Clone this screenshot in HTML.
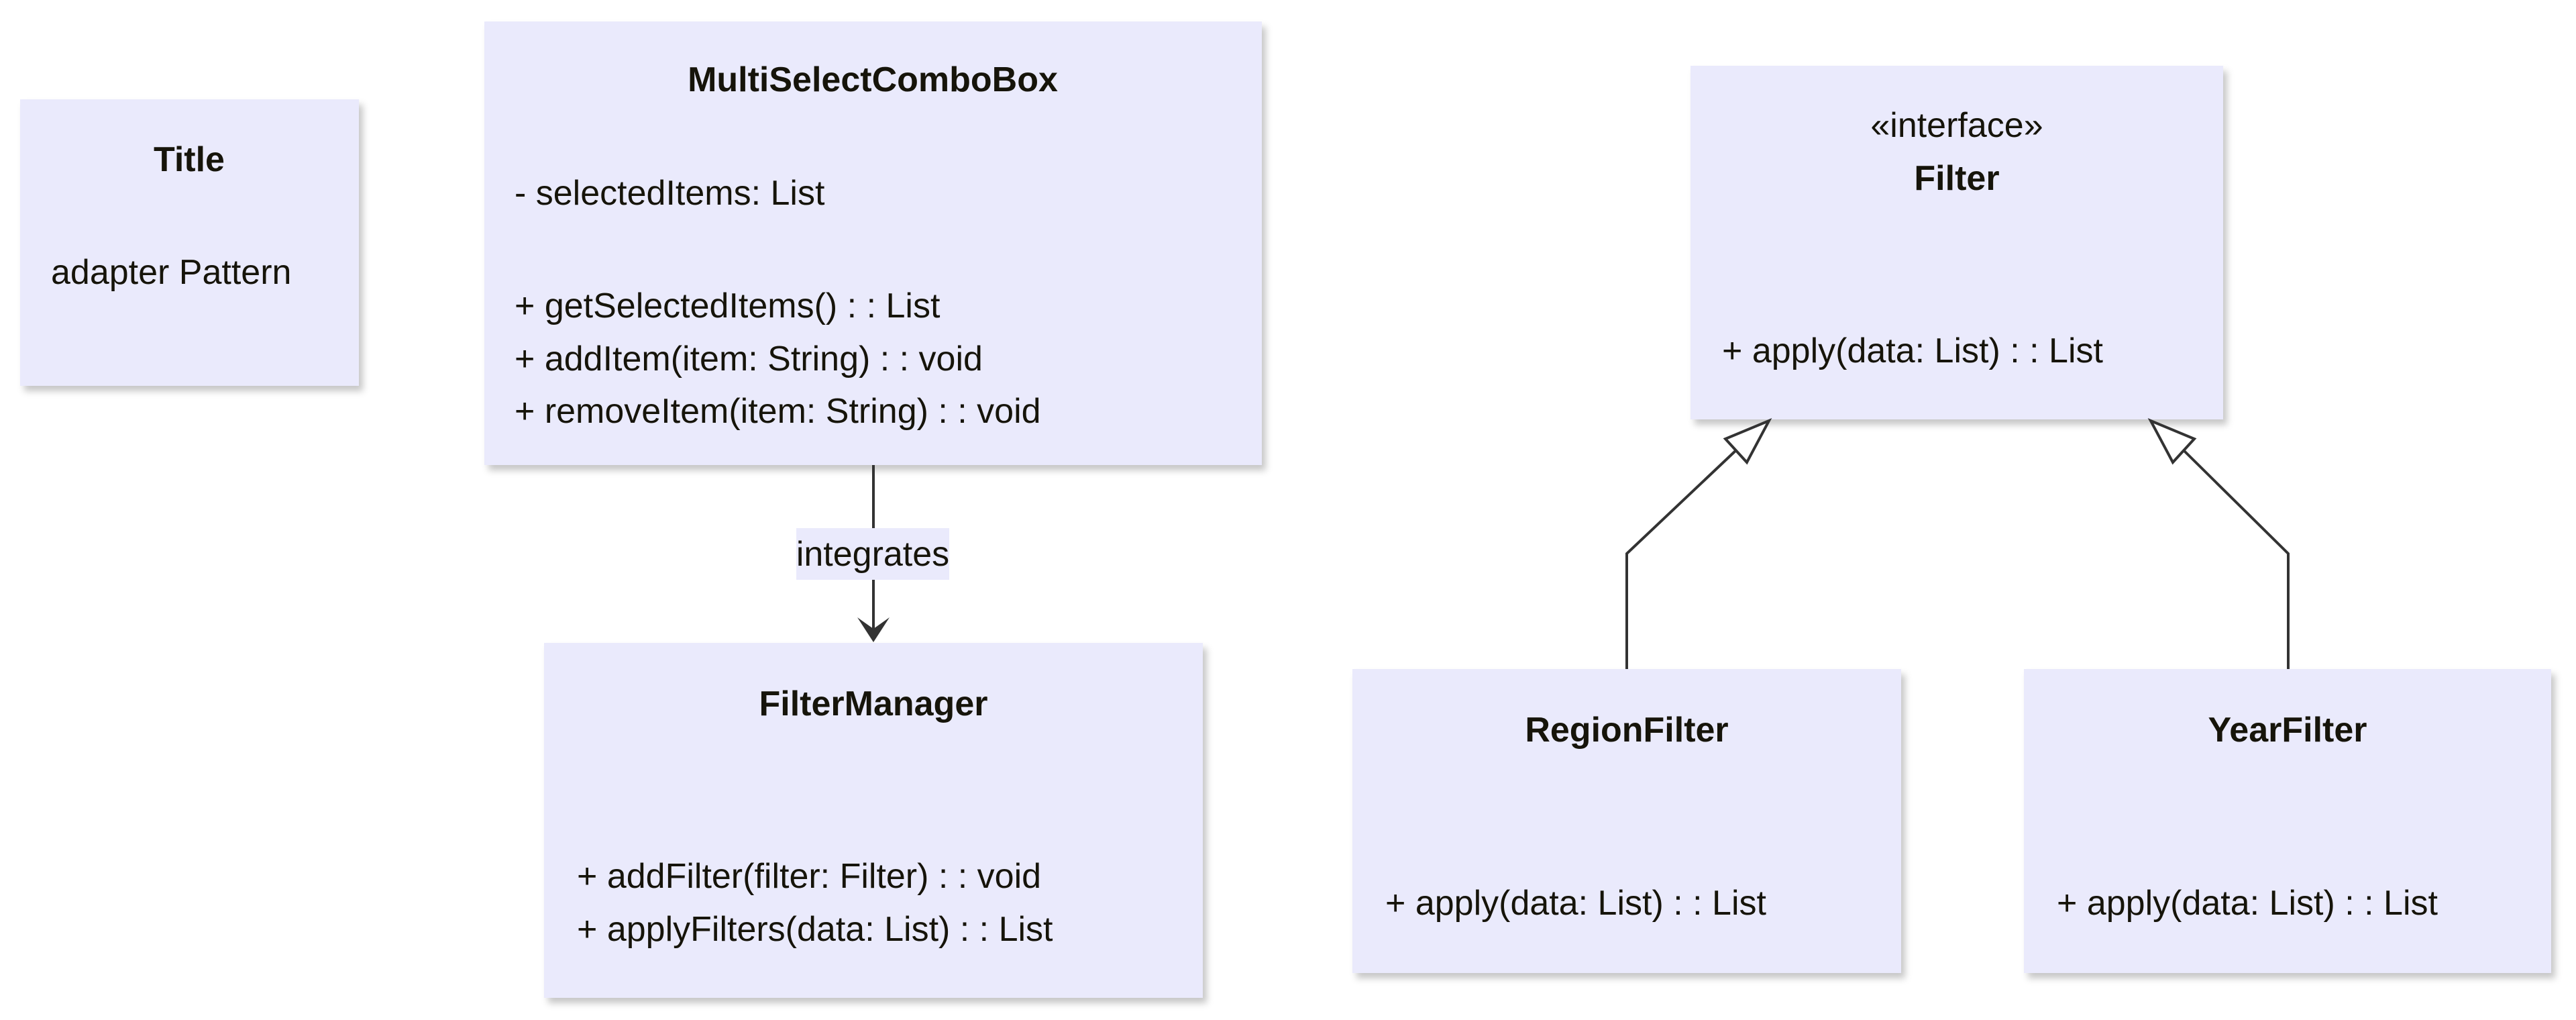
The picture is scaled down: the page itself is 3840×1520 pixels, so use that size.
<!DOCTYPE html>
<html><head><meta charset="utf-8"><style>
html,body{margin:0;padding:0;background:#fff;width:3840px;height:1520px;overflow:hidden}
svg text{font-family:"Liberation Sans",Arial,sans-serif;fill:#16140a;font-size:52px}
.b{font-weight:bold}
</style></head><body>
<svg width="3840" height="1520" viewBox="0 0 3840 1520" xmlns="http://www.w3.org/2000/svg">
<defs><filter id="sh" x="-5%" y="-5%" width="112%" height="115%"><feDropShadow dx="6" dy="8" stdDeviation="5" flood-color="#000" flood-opacity="0.22"/></filter></defs>
<g fill="#eaeafc" filter="url(#sh)">
<rect x="30" y="148" width="505" height="427"/>
<rect x="722" y="32" width="1159" height="661"/>
<rect x="811" y="958" width="982" height="529"/>
<rect x="2520" y="98" width="794" height="527"/>
<rect x="2016" y="997" width="818" height="453"/>
<rect x="3017" y="997" width="786" height="453"/>
</g>
<!-- connectors -->
<g stroke="#333" stroke-width="4" fill="none">
<line x1="1302" y1="693" x2="1302" y2="950"/>
<polyline points="2425,997 2425,825 2589,670"/>
<polyline points="3411,997 3411,825 3254,670"/>
<polygon points="2637,627 2572,654 2604,689" fill="#fff"/>
<polygon points="3206,627 3271,654 3239,689" fill="#fff"/>
</g>
<polygon points="1302,957 1278,920 1302,937 1326,920" fill="#333"/>
<rect x="1187" y="787" width="228" height="77" fill="#eaeafc"/>
<text x="1301" y="843" text-anchor="middle">integrates</text>
<!-- Title -->
<text class="b" x="282" y="255" text-anchor="middle">Title</text>
<text x="76" y="423">adapter Pattern</text>
<!-- MultiSelect -->
<text class="b" x="1301" y="136" text-anchor="middle">MultiSelectComboBox</text>
<text x="767" y="305">- selectedItems: List</text>
<text x="767" y="473">+ getSelectedItems() : : List</text>
<text x="767" y="552">+ addItem(item: String) : : void</text>
<text x="767" y="630">+ removeItem(item: String) : : void</text>
<!-- FilterManager -->
<text class="b" x="1302" y="1066" text-anchor="middle">FilterManager</text>
<text x="860" y="1323">+ addFilter(filter: Filter) : : void</text>
<text x="860" y="1402">+ applyFilters(data: List) : : List</text>
<!-- Filter -->
<text x="2917" y="204" text-anchor="middle">«interface»</text>
<text class="b" x="2917" y="283" text-anchor="middle">Filter</text>
<text x="2567" y="540">+ apply(data: List) : : List</text>
<!-- Region -->
<text class="b" x="2425" y="1105" text-anchor="middle">RegionFilter</text>
<text x="2065" y="1363">+ apply(data: List) : : List</text>
<!-- Year -->
<text class="b" x="3410" y="1105" text-anchor="middle">YearFilter</text>
<text x="3066" y="1363">+ apply(data: List) : : List</text>
</svg>
</body></html>
